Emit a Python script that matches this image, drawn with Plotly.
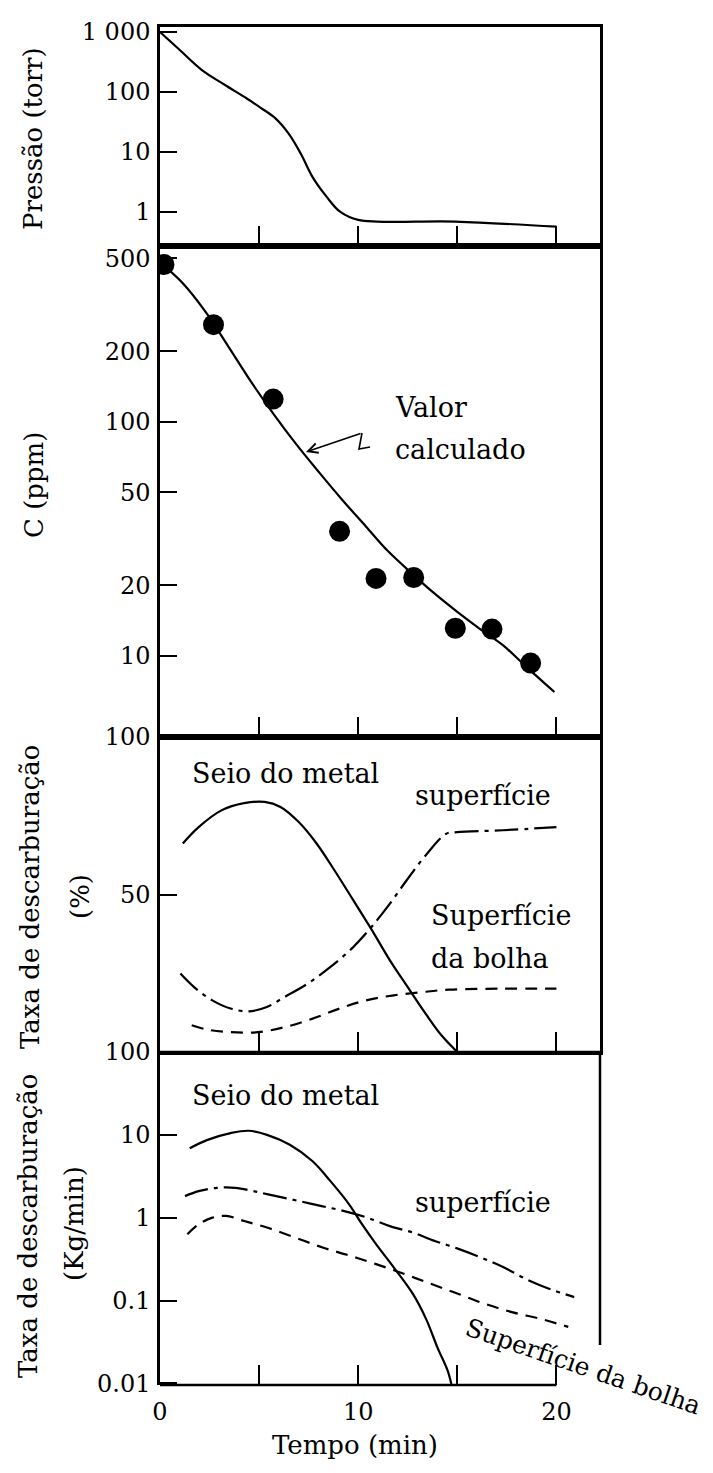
import plotly.graph_objects as go

# ---------------- data ----------------
# Panel 1: pressure (torr)
t_pressure = [0, 0.93, 2.1, 3.26, 4.4, 5.1, 5.8, 6.5, 7.1, 7.7, 8.4, 9.1, 10.0, 14.9, 20.0]
pressure = [1000, 525, 234, 132, 77, 54, 37, 20, 9.4, 3.8, 1.8, 1.0, 0.74, 0.69, 0.57]

# Panel 2: carbon (ppm)
t_c_meas = [0.2, 2.7, 5.71, 9.06, 10.9, 12.8, 14.9, 16.75, 18.7]
c_meas = [470, 260, 125, 34, 21.4, 21.6, 13.1, 13.0, 9.3]
t_c_calc = [0.16, 1.15, 2.3, 3.46, 4.6, 5.76, 6.9, 8.06, 9.2, 10.4, 11.5, 12.7, 13.8, 15.0, 16.1, 17.3, 18.4, 19.9]
c_calc = [467, 391, 295, 209, 148, 107, 79.6, 60.3, 46.3, 35.6, 28.0, 22.5, 18.6, 15.4, 13.1, 11.1, 9.1, 7.0]

# Panel 3: decarburization share (%)
t_pct_bulk = [1.15, 1.95, 3.1, 4.24, 5.28, 6.08, 7.0, 7.9, 8.8, 9.75, 10.7, 11.6, 12.5, 13.4, 14.2, 15.0]
pct_bulk = [66.2, 71.4, 76.7, 79.0, 79.4, 77.8, 73.0, 66.2, 57.7, 48.2, 38.6, 29.1, 20.6, 12.2, 5.3, 0]
t_pct_surf = [1.03, 1.72, 2.64, 3.56, 4.47, 5.39, 6.3, 7.45, 8.6, 9.75, 10.67, 11.6, 12.5, 13.4, 14.45, 15.0, 17.3, 20.0]
pct_surf = [24.9, 20.6, 16.4, 13.8, 12.9, 14.3, 17.5, 21.7, 27.0, 33.3, 39.7, 47.1, 55.0, 62.4, 69.3, 69.8, 70.4, 71.4]
t_pct_bubble = [1.6, 2.4, 3.56, 4.93, 6.3, 7.7, 9.06, 10.4, 11.8, 13.2, 14.6, 17.3, 20.0]
pct_bubble = [8.5, 7.1, 6.3, 6.3, 7.9, 10.6, 13.8, 16.4, 18.0, 19.0, 19.8, 20.1, 20.1]

# Panel 4: decarburization rate (kg/min)
t_rate_bulk = [1.5, 2.4, 3.56, 4.48, 5.4, 6.55, 7.7, 8.6, 9.54, 10.2, 10.9, 11.8, 12.76, 13.45, 14.0, 14.5, 14.7]
rate_bulk = [6.9, 8.7, 10.5, 11.2, 10.0, 7.6, 4.8, 2.76, 1.45, 0.83, 0.48, 0.25, 0.12, 0.058, 0.027, 0.0145, 0.0098]
t_rate_surf = [1.26, 1.95, 2.87, 3.8, 4.71, 5.86, 7.0, 8.16, 9.3, 10.46, 11.6, 12.76, 13.9, 15.06, 16.2, 17.36, 18.5, 19.66, 20.9]
rate_surf = [1.82, 2.09, 2.29, 2.29, 2.09, 1.82, 1.59, 1.38, 1.20, 1.0, 0.79, 0.66, 0.52, 0.42, 0.33, 0.25, 0.18, 0.138, 0.11]
t_rate_bubble = [1.38, 1.95, 2.64, 3.33, 4.25, 5.4, 6.78, 8.16, 9.54, 10.9, 12.3, 13.7, 15.06, 16.4, 17.8, 19.2, 20.6]
rate_bubble = [0.63, 0.83, 1.0, 1.05, 0.91, 0.76, 0.58, 0.44, 0.35, 0.275, 0.21, 0.158, 0.12, 0.091, 0.072, 0.060, 0.048]

# tick labels
p_tickvals = [1000, 100, 10, 1]
p_ticktext = ["1 000", "100", "10", "1"]
c_tickvals = [500, 200, 100, 50, 20, 10]
c_ticktext = ["500", "200", "100", "50", "20", "10"]
pct_tickvals = [100, 50]
pct_ticktext = ["100", "50"]
r_tickvals = [100, 10, 1, 0.1, 0.01]
r_ticktext = ["100", "10", "1", "0.1", "0.01"]
x_tickvals = [0, 5, 10, 15, 20]
x_ticktext = ["0", "", "10", "", "20"]

# ---------------- figure ----------------
W, H = 713, 1473
FONT = "DejaVu Serif"


def px(x):
    return x / W


def py(y):
    return 1 - y / H


DASHDOT = "24px,6px,4px,6px"
DASH = "12px,8px"

fig = go.Figure()


def line(x, y, xa, ya, dash="solid"):
    fig.add_trace(go.Scatter(
        x=x, y=y, mode="lines", xaxis=xa, yaxis=ya, showlegend=False,
        line=dict(color="black", width=2.2, dash=dash, shape="spline", smoothing=1.0),
        hoverinfo="skip"))


line(t_pressure, pressure, "x", "y")
line(t_c_calc, c_calc, "x2", "y2")
fig.add_trace(go.Scatter(x=t_c_meas, y=c_meas, mode="markers", xaxis="x2", yaxis="y2",
                         showlegend=False, marker=dict(color="black", size=21)))
line(t_pct_bulk, pct_bulk, "x3", "y3")
line(t_pct_surf, pct_surf, "x3", "y3", DASHDOT)
line(t_pct_bubble, pct_bubble, "x3", "y3", DASH)
line(t_rate_bulk, rate_bulk, "x4", "y4")
line(t_rate_surf, rate_surf, "x4", "y4", DASHDOT)
line(t_rate_bubble, rate_bubble, "x4", "y4", DASH)

XL, XR = 160, 600
xdom = [px(XL), px(XR)]
bounds = [27, 246, 737, 1052, 1385]
ydoms = [[py(bounds[i + 1]), py(bounds[i])] for i in range(4)]

tickfont = dict(family=FONT, size=24, color="black")


def xaxis(i, labels=False):
    d = dict(domain=xdom, range=[0, 22.2], anchor="y" if i == 1 else f"y{i}",
             showline=True, mirror=True, linecolor="black", linewidth=2.5,
             ticks="inside", ticklen=20, tickwidth=2, tickcolor="black",
             tickvals=[5, 10, 15, 20], showticklabels=False, automargin=False,
             showgrid=False, zeroline=False, tickfont=tickfont)
    if i != 1:
        d["matches"] = "x"
    if labels:
        d.update(tickvals=x_tickvals, ticktext=x_ticktext, showticklabels=True,
                 showline=False, ticklabelstandoff=10)
    return d


def yaxis(i, rng, tv, tt, typ="log", mirror=True):
    return dict(domain=ydoms[i - 1], range=rng, type=typ,
                anchor="x" if i == 1 else f"x{i}",
                showline=True, mirror=mirror, linecolor="black", linewidth=2.5,
                ticks="inside", ticklen=17, tickwidth=2, tickcolor="black",
                tickvals=tv, ticktext=tt, showgrid=False, zeroline=False,
                automargin=False, tickfont=tickfont, ticklabelstandoff=2)


fig.update_layout(
    width=W, height=H, autosize=False, margin=dict(l=0, r=0, t=0, b=0, pad=0),
    paper_bgcolor="white", plot_bgcolor="white", showlegend=False,
    font=dict(family=FONT, color="black"),
    xaxis=xaxis(1), xaxis2=xaxis(2), xaxis3=xaxis(3), xaxis4=xaxis(4, labels=True),
    yaxis=yaxis(1, [-0.567, 3.083], p_tickvals, p_ticktext),
    yaxis2=yaxis(2, [0.6527, 2.751], c_tickvals, c_ticktext),
    yaxis3=yaxis(3, [0, 100], pct_tickvals, pct_ticktext, typ="linear"),
    yaxis4=yaxis(4, [-2.02, 2.0], r_tickvals, r_ticktext, mirror=False),
)

# partial frame for the bottom panel (as in the scan)
frame = dict(color="black", width=2.5)
x20 = XL + (XR - XL) * 20 / 22.2
fig.add_shape(type="line", xref="paper", yref="paper", x0=px(XL), x1=px(x20),
              y0=py(1385), y1=py(1385), line=frame)
fig.add_shape(type="line", xref="paper", yref="paper", x0=px(XR), x1=px(XR),
              y0=py(1052), y1=py(1345), line=frame)
fig.add_shape(type="line", xref="paper", yref="paper", x0=px(XL), x1=px(XR),
              y0=py(1052), y1=py(1052), line=frame)


def text(t, x, y, size=26, xanchor="left", angle=0):
    fig.add_annotation(text=t, x=px(x), y=py(y), xref="paper", yref="paper",
                       xanchor=xanchor, yanchor="middle", showarrow=False,
                       textangle=angle, font=dict(family=FONT, size=size, color="black"))


# axis titles
text("Pressão (torr)", 33, 139, 26, "center", -90)
text("C (ppm)", 34, 485, 26, "center", -90)
text("Taxa de descarburação", 30, 897, 26, "center", -90)
text("(%)", 80, 897, 26, "center", -90)
text("Taxa de descarburação", 28, 1226, 26, "center", -90)
text("(Kg/min)", 74, 1224, 26, "center", -90)
text("Tempo (min)", 355, 1445, 26, "center")

# in-plot labels
text("Valor", 393, 407, 27)
text("calculado", 393, 450, 27)
text("Seio do metal", 190, 773, 27)
text("superfície", 413, 795, 27)
text("Superfície", 429, 915, 27)
text("da bolha", 429, 958, 27)
text("Seio do metal", 190, 1095, 27)
text("superfície", 413, 1202, 27)
text("Superfície da bolha", 583, 1366, 25, "center", 19)

# squiggle arrow pointing at the calculated curve
fig.add_annotation(x=px(306), y=py(452), ax=56, ay=-19, xref="paper", yref="paper",
                   axref="pixel", ayref="pixel", text="", showarrow=True,
                   arrowhead=5, arrowsize=1.2, arrowwidth=1.6, arrowcolor="black")
fig.add_shape(type="path", xref="paper", yref="paper",
              path=f"M {px(362)},{py(433)} L {px(359)},{py(449)} L {px(370)},{py(447)}",
              line=dict(color="black", width=1.6))

fig.write_html("out.html", config={"responsive": False})
